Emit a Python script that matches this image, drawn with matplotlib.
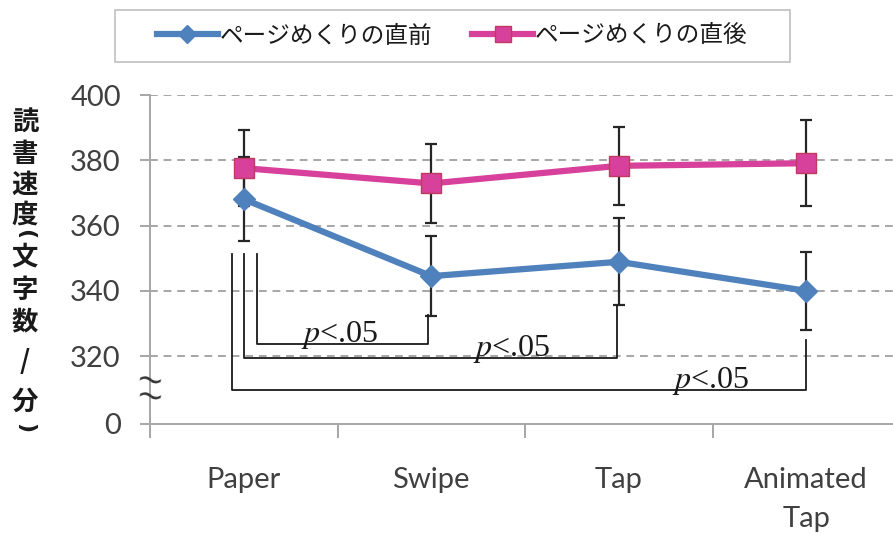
import matplotlib
matplotlib.use('Agg')
import matplotlib.pyplot as plt
from matplotlib.patches import Rectangle
import numpy as np

plt.rcParams['font.family'] = ['Lato', 'DejaVu Sans']
plt.rcParams['mathtext.fontset'] = 'stix'

categories = ['Paper', 'Swipe', 'Tap', 'Animated\nTap']
before_mean = [368.1, 344.5, 348.9, 340.0]
before_err = [12.9, 12.2, 13.3, 12.0]
after_mean = [377.6, 372.9, 378.3, 379.1]
after_err = [11.6, 12.0, 11.9, 13.2]
legend_labels = ['ページめくりの直前', 'ページめくりの直後']
ylabel_chars = ['読', '書', '速', '度', '(', '文', '字', '数', '/', '分', ')']
ytick_values = [320, 340, 360, 380, 400]
sig_label = '$p$<.05'

# 0 is drawn just below the break, the rest of the axis is linear
zero_pos = 299.2

blue = '#4F81BD'
pink = '#D8419B'
axis_gray = '#A6A6A6'
text_gray = '#404040'
err_color = '#262626'

fig = plt.figure(figsize=(8.93, 5.38), dpi=100)
ax = fig.add_axes([150 / 893, 1 - 424 / 538, 750 / 893, 329 / 538])

x = np.arange(len(categories))

ax.errorbar(x, after_mean, yerr=after_err, fmt='none', ecolor=err_color,
            elinewidth=1.6, capsize=4.5, capthick=1.6, zorder=2)
ax.errorbar(x, before_mean, yerr=before_err, fmt='none', ecolor=err_color,
            elinewidth=1.6, capsize=4.5, capthick=1.6, zorder=2)
l1, = ax.plot(x, before_mean, color=blue, lw=4.5, marker='D', ms=11,
              mfc=blue, mec=blue, zorder=3)
l2, = ax.plot(x, after_mean, color=pink, lw=4.5, marker='s', ms=14,
              mfc=pink, mec='#C0395E', mew=1, zorder=3)

ax.set_xlim(-0.5, len(categories) - 0.5)
ax.set_ylim(zero_pos, 400)

for v in ytick_values:
    ax.axhline(v, color=axis_gray, lw=1.4, ls=(0, (4, 3)), zorder=1)

ax.set_yticks([zero_pos] + ytick_values)
ax.set_yticklabels(['0'] + [str(v) for v in ytick_values])
ax.tick_params(axis='y', direction='out', length=7, width=1.4, color=axis_gray,
               labelsize=21, labelcolor=text_gray, pad=14)

ax.set_xticks(np.arange(len(categories) + 1) - 0.5)
ax.set_xticklabels([])
ax.set_xticks(x, minor=True)
ax.set_xticklabels(categories, minor=True, va='top', linespacing=1.6)
ax.tick_params(axis='x', which='major', direction='out', length=10, width=1.4,
               color=axis_gray)
ax.tick_params(axis='x', which='minor', length=0, labelsize=21,
               labelcolor=text_gray, pad=31)

for s in ['top', 'right']:
    ax.spines[s].set_visible(False)
for s in ['left', 'bottom']:
    ax.spines[s].set_color(axis_gray)
    ax.spines[s].set_linewidth(1.4)

# axis break marks, two waves across the y axis
for yb in [312.4, 307.5]:
    ax.text(-0.5, yb, '~', ha='center', va='center', fontsize=24,
            color='#333333', family='DejaVu Sans', clip_on=False,
            rotation=-12)

# significance brackets: (left x, right x, line y, right end top, label x)
brackets = [
    (0.07, 0.98, 323.7, 332.5, 0.51),
    (0.0, 1.99, 319.4, 335.5, 1.43),
    (-0.064, 3.0, 309.6, 325.0, 2.49),
]
for xl, xr, yl, ytop, lx in brackets:
    ax.plot([xl, xl, xr, xr], [351.3, yl, yl, ytop], color='#1a1a1a', lw=1.3,
            zorder=2, clip_on=False)
    ax.text(lx, yl + 0.6, sig_label, ha='center', va='baseline', fontsize=23,
            family='Liberation Serif', color='#1a1a1a')

# vertical y label, one character per row; brackets turned for vertical writing
label_y = [123, 155, 185, 215, 234, 257, 290, 322, 362, 402, 428]
for ch, py in zip(ylabel_chars, label_y):
    if ch in '()':
        fig.text(25 / 893, 1 - py / 538, ch, ha='center', va='center',
                 fontsize=16, fontweight='bold', color='#1a1a1a',
                 family='DejaVu Sans', rotation=-90)
    else:
        fig.text(25 / 893, 1 - py / 538, ch, ha='center', va='center',
                 fontsize=19, fontweight='bold', color='#1a1a1a',
                 family=['Noto Sans CJK JP', 'DejaVu Sans'])

leg = fig.legend([l1, l2], legend_labels, loc='center',
                 bbox_to_anchor=(452 / 893, 1 - 36 / 538), ncol=2,
                 prop={'family': ['Noto Sans CJK JP', 'DejaVu Sans'], 'size': 17},
                 frameon=False,
                 handlelength=2.6, handletextpad=0.05, columnspacing=1.7,
                 borderpad=0.4, borderaxespad=0, markerscale=0.8)
for t in leg.get_texts():
    t.set_color('#1a1a1a')

# legend box is wider than the entries
fig.patches.append(Rectangle((115 / 893, 1 - 62 / 538), 675 / 893, 52 / 538,
                             transform=fig.transFigure, fill=False,
                             edgecolor='#BFBFBF', lw=1.2))

fig.savefig('out.png', dpi=100)
